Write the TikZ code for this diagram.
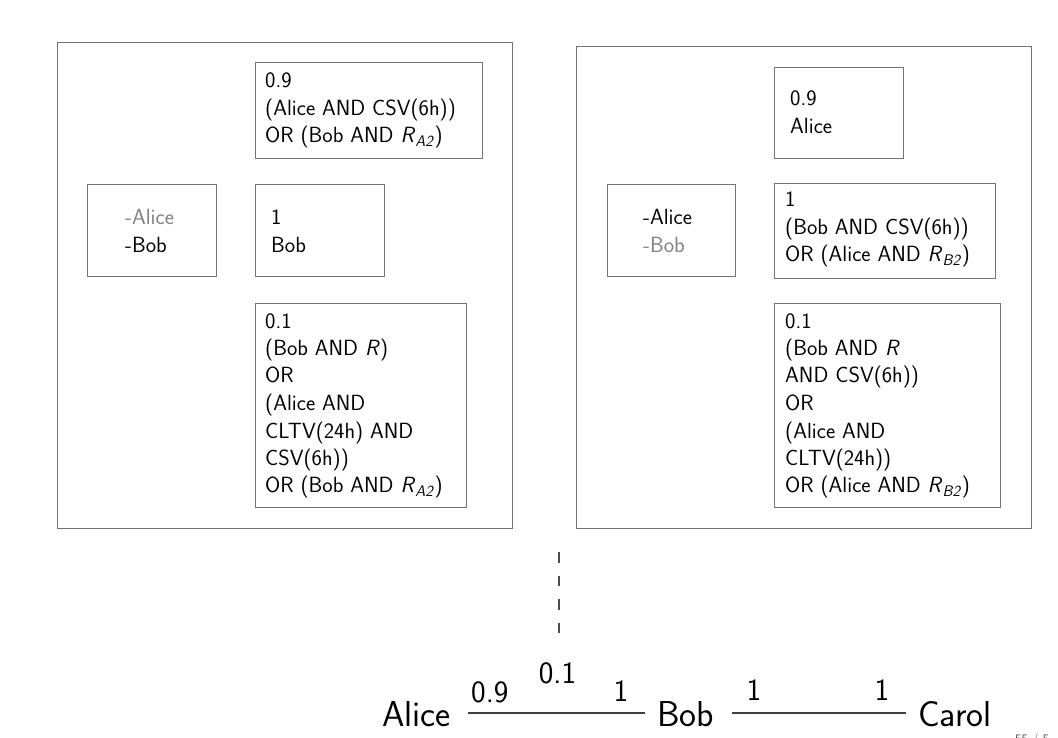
\documentclass[tikz,border=0pt]{standalone}
\newcommand\myRs[1]{\textit{R}\textsubscript{\textit{#1}}}
\begin{document}
\begin{tikzpicture}[x=1pt,y=-1pt,
  box/.style={draw=black!55, line width=0.9pt, inner sep=0pt, anchor=north west},
  txt/.style={anchor=base west, inner sep=0pt, font=\sffamily\fontsize{22}{27.5}\selectfont, text=black},
  big/.style={font=\sffamily\fontsize{36}{40}\selectfont, inner sep=0pt, anchor=base west},
  lab/.style={font=\sffamily\fontsize{31}{36}\selectfont, inner sep=0pt, anchor=base west},
  conn/.style={draw=black!75, line width=1.6pt},
  dashconn/.style={draw=black!70, line width=1.5pt, dash pattern=on 10.7pt off 13pt},
  faint/.style={text=black!50}
]
\useasboundingbox (0,0) rectangle (1058,738);

% ---------- left frame ----------
\node[box, minimum width=455pt, minimum height=486pt] (Lframe) at (57,42) {};
\node[box, minimum width=227pt, minimum height=96pt] (Ltop) at (255,62) {};
\node[box, minimum width=129pt, minimum height=92pt] (Lkeys) at (87,184) {};
\node[box, minimum width=129pt, minimum height=92pt] (Lmid) at (255,184) {};
\node[box, minimum width=211pt, minimum height=204pt] (Lbot) at (255,303) {};

\node[txt] (LtopT) at (265,88) {\begin{tabular}[t]{@{}l@{}}0.9\\(Alice AND CSV(6h))\\OR (Bob AND \myRs{A2})\end{tabular}};
\node[txt] (LkeysT) at (125,225) {\begin{tabular}[t]{@{}l@{}}{\color{black!50}-Alice}\\-Bob\end{tabular}};
\node[txt] (LmidT) at (271,225) {\begin{tabular}[t]{@{}l@{}}1\\Bob\end{tabular}};
\node[txt] (LbotT) at (265,328) {\begin{tabular}[t]{@{}l@{}}0.1\\(Bob AND \textit{R})\\OR\\(Alice AND\\CLTV(24h) AND\\CSV(6h))\\OR (Bob AND \myRs{A2})\end{tabular}};

% ---------- right frame ----------
\node[box, minimum width=455pt, minimum height=482pt] (Rframe) at (576,46) {};
\node[box, minimum width=129pt, minimum height=91pt] (Rtop) at (774,67) {};
\node[box, minimum width=128pt, minimum height=92pt] (Rkeys) at (607,184) {};
\node[box, minimum width=221pt, minimum height=95pt] (Rmid) at (774,183) {};
\node[box, minimum width=226pt, minimum height=204pt] (Rbot) at (774,303) {};

\node[txt] (RtopT) at (790,106) {\begin{tabular}[t]{@{}l@{}}0.9\\Alice\end{tabular}};
\node[txt] (RkeysT) at (643,225) {\begin{tabular}[t]{@{}l@{}}-Alice\\{\color{black!50}-Bob}\end{tabular}};
\node[txt] (RmidT) at (785,207) {\begin{tabular}[t]{@{}l@{}}1\\(Bob AND CSV(6h))\\OR (Alice AND \myRs{B2})\end{tabular}};
\node[txt] (RbotT) at (785,328) {\begin{tabular}[t]{@{}l@{}}0.1\\(Bob AND \textit{R}\\AND CSV(6h))\\OR\\(Alice AND\\CLTV(24h))\\OR (Alice AND \myRs{B2})\end{tabular}};

% ---------- channel line ----------
\node[big] (Alice) at (382,726) {Alice};
\node[big] (Bob) at (657,726) {Bob};
\node[big] (Carol) at (918,726) {Carol};

\draw[conn] ([xshift=17pt,yshift=13pt]Alice.base east) -- ([xshift=-12pt,yshift=13pt]Bob.base west);
\draw[conn] ([xshift=18pt,yshift=13pt]Bob.base east) -- ([xshift=-12pt,yshift=13pt]Carol.base west);

\node[lab] (a09) at (471,702) {0.9};
\node[lab, anchor=base] (a01) at (557.5,683.5) {0.1};
\node[lab] (b1a) at (613.5,701) {1};
\node[lab] (b1b) at (746.5,700) {1};
\node[lab] (c1) at (874.5,700) {1};

\coordinate (dtop) at (559,552);
\coordinate (dbot) at (559,633);
\draw[dashconn] (dtop) -- (dbot);

\begin{scope}
\clip (0,0) rectangle (1058,738);
\node[anchor=base west, inner sep=0pt, font=\sffamily\fontsize{13}{15}\selectfont, text=black!70] (pg) at (1015,743) {55 / 5};
\end{scope}
\end{tikzpicture}
\end{document}
